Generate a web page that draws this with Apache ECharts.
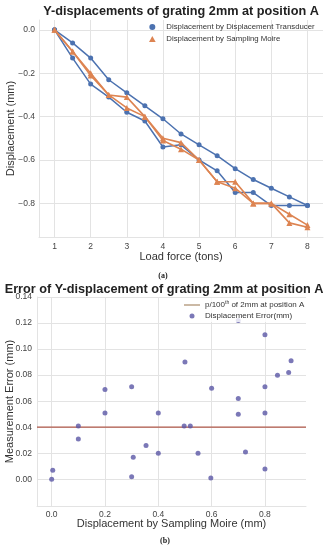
<!DOCTYPE html>
<html>
<head>
<meta charset="utf-8">
<script src="https://cdn.jsdelivr.net/npm/echarts@6/dist/echarts.min.js"></script>
<style>
html,body{margin:0;padding:0;background:#fff;}
#c{width:327px;height:550px;}
</style>
</head>
<body>
<div id="c"></div>
<script>
// ---- Top chart data ----
const loadForce = [1, 1.5, 2, 2.5, 3, 3.5, 4, 4.5, 5, 5.5, 6, 6.5, 7, 7.5, 8];
const transducerLoad   = [0, -0.06, -0.13, -0.23, -0.29, -0.35, -0.41, -0.48, -0.53, -0.58, -0.64, -0.69, -0.73, -0.77, -0.81];
const transducerUnload = [0, -0.13, -0.25, -0.31, -0.38, -0.42, -0.54, -0.53, -0.60, -0.65, -0.75, -0.75, -0.81, -0.81, -0.81];
const moireLoad   = [0, -0.10, -0.20, -0.30, -0.31, -0.40, -0.50, -0.52, -0.60, -0.70, -0.70, -0.80, -0.80, -0.85, -0.90];
const moireUnload = [0, -0.10, -0.21, -0.30, -0.36, -0.40, -0.51, -0.55, -0.60, -0.70, -0.73, -0.80, -0.80, -0.89, -0.91];
const topXTicks = [1, 2, 3, 4, 5, 6, 7, 8];
const topYTicks = [0.0, -0.2, -0.4, -0.6, -0.8];

// ---- Bottom chart data ----
const moireDisp = [0.0, 0.004, 0.10, 0.10, 0.20, 0.20, 0.30, 0.306, 0.30, 0.354, 0.40, 0.40, 0.497, 0.52, 0.50, 0.549, 0.597, 0.60, 0.70, 0.70, 0.70, 0.727, 0.80, 0.80, 0.80, 0.80, 0.847, 0.889, 0.898];
const dispError = [0.000, 0.007, 0.041, 0.031, 0.051, 0.069, 0.002, 0.017, 0.071, 0.026, 0.051, 0.020, 0.041, 0.041, 0.090, 0.020, 0.001, 0.070, 0.050, 0.062, 0.122, 0.021, 0.051, 0.008, 0.071, 0.111, 0.080, 0.082, 0.091];
const thresholdValue = 0.04;
const botXTicks = [0.0, 0.2, 0.4, 0.6, 0.8];
const botYTicks = [0.00, 0.02, 0.04, 0.06, 0.08, 0.10, 0.12, 0.14];
const botXRange = [-0.055, 0.954];

const pairs = (xs, ys) => xs.map((x, i) => [x, ys[i]]);

const FONT = 'Liberation Sans';
const gridColor = '#e3e3e3';
const labelColor = '#444';
const blue = '#4c72b0';
const orange = '#dd8452';
const purple = '#5a56a5';
const red = '#b0584a';

const chart = echarts.init(document.getElementById('c'), null, {renderer: 'canvas'});

function axisCommon(ticks, fmt, margin) {
  return {
    axisLine: {show: true, onZero: false, lineStyle: {color: gridColor, width: 1}},
    axisTick: {show: false, customValues: ticks},
    axisLabel: {customValues: ticks, formatter: fmt, color: labelColor, fontFamily: FONT, fontSize: 8.5, margin: margin},
    splitLine: {show: true, lineStyle: {color: gridColor, width: 1}}
  };
}

const option = {
  backgroundColor: '#fff',
  animation: false,
  textStyle: {fontFamily: FONT},
  title: [
    {text: 'Y-displacements of grating 2mm at position A', left: 176, top: 0, textAlign: 'center',
     textStyle: {fontFamily: FONT, fontWeight: 'bold', fontSize: 12.7, color: '#222'}},
    {text: 'Error of Y-displacement of grating 2mm at position A', left: 159, top: 278, textAlign: 'center',
     textStyle: {fontFamily: FONT, fontWeight: 'bold', fontSize: 12.7, color: '#222'}},
    {text: '(a)', left: 158, top: 267, textAlign: 'center',
     textStyle: {fontFamily: 'Liberation Serif', fontWeight: 'bold', fontSize: 8, color: '#222'}},
    {text: '(b)', left: 160, top: 532, textAlign: 'center',
     textStyle: {fontFamily: 'Liberation Serif', fontWeight: 'bold', fontSize: 8, color: '#222'}}
  ],
  legend: [
    {
      orient: 'vertical', left: 144, top: 18, itemGap: 4,
      itemWidth: 18, itemHeight: 6,
      textStyle: {fontFamily: FONT, fontSize: 7.8, color: '#333'},
      data: [
        {name: 'Displacement by Displacement Transducer', icon: 'circle'},
        {name: 'Displacement by Sampling Moire', icon: 'path://M5,0 L10,9 L0,9 Z'}
      ]
    },
    {
      orient: 'vertical', left: 182, top: 298, itemGap: 3,
      itemWidth: 16, itemHeight: 5,
      backgroundColor: 'rgba(255,255,255,0.8)',
      padding: [2, 4, 2, 2],
      textStyle: {fontFamily: FONT, fontSize: 8, color: '#333',
        rich: {sup: {fontSize: 5, padding: [0, 0, 5, 0], fontFamily: FONT, color: '#333'}}},
      formatter: function (name) {
        if (name === 'thr') return 'p/100{sup|th} of 2mm at position A';
        return name;
      },
      data: [
        {name: 'thr', icon: 'path://M0,0 L40,0 L40,3 L0,3 Z', itemStyle: {color: '#a88a6a'}},
        {name: 'Displacement Error(mm)', icon: 'circle'}
      ]
    }
  ],
  grid: [
    {left: 39, right: 4, top: 20, bottom: 313, containLabel: false, outerBoundsMode: 'none'},
    {left: 37, right: 21, top: 297, bottom: 44, containLabel: false, outerBoundsMode: 'none'}
  ],
  xAxis: [
    Object.assign({
      type: 'value', gridIndex: 0, min: 0.57, max: 8.43,
      name: 'Load force (tons)', nameLocation: 'middle', nameGap: 14, nameMoveOverlap: false,
      nameTextStyle: {fontFamily: FONT, fontSize: 11, color: '#333', verticalAlign: 'top'}
    }, axisCommon(topXTicks, v => String(v), 5)),
    Object.assign({
      type: 'value', gridIndex: 1, min: botXRange[0], max: botXRange[1],
      name: 'Displacement by Sampling Moire (mm)', nameLocation: 'middle', nameGap: 12, nameMoveOverlap: false,
      nameTextStyle: {fontFamily: FONT, fontSize: 11, color: '#333', verticalAlign: 'top'}
    }, axisCommon(botXTicks, v => v.toFixed(1), 4))
  ],
  yAxis: [
    Object.assign({
      type: 'value', gridIndex: 0, min: -0.955, max: 0.0455,
      name: 'Displacement (mm)', nameLocation: 'middle', nameGap: 23, nameMoveOverlap: false,
      nameTextStyle: {fontFamily: FONT, fontSize: 11, color: '#333'}
    }, axisCommon(topYTicks, v => (v < 0 ? '\u2212' + Math.abs(v).toFixed(1) : v.toFixed(1)), 4)),
    Object.assign({
      type: 'value', gridIndex: 1, min: -0.0205, max: 0.14,
      name: 'Measurement Error (mm)', nameLocation: 'middle', nameGap: 22, nameMoveOverlap: false,
      nameTextStyle: {fontFamily: FONT, fontSize: 11, color: '#333'}
    }, axisCommon(botYTicks, v => v.toFixed(2), 5))
  ],
  series: [
    {name: 'Displacement by Displacement Transducer', type: 'line', xAxisIndex: 0, yAxisIndex: 0,
     data: pairs(loadForce, transducerLoad), symbol: 'circle', symbolSize: 5,
     lineStyle: {color: blue, width: 1.5}, itemStyle: {color: blue}, z: 2},
    {name: 'Displacement by Displacement Transducer', type: 'line', xAxisIndex: 0, yAxisIndex: 0,
     data: pairs(loadForce, transducerUnload), symbol: 'circle', symbolSize: 5,
     lineStyle: {color: blue, width: 1.5}, itemStyle: {color: blue}, z: 2},
    {name: 'Displacement by Sampling Moire', type: 'line', xAxisIndex: 0, yAxisIndex: 0,
     data: pairs(loadForce, moireLoad), symbol: 'triangle', symbolSize: 6,
     lineStyle: {color: orange, width: 1.6}, itemStyle: {color: orange}, z: 3},
    {name: 'Displacement by Sampling Moire', type: 'line', xAxisIndex: 0, yAxisIndex: 0,
     data: pairs(loadForce, moireUnload), symbol: 'triangle', symbolSize: 6,
     lineStyle: {color: orange, width: 1.6}, itemStyle: {color: orange}, z: 3},
    {name: 'thr', type: 'line', xAxisIndex: 1, yAxisIndex: 1,
     data: pairs(botXRange, [thresholdValue, thresholdValue]),
     symbol: 'none', itemStyle: {color: red}, lineStyle: {color: red, width: 1.2}, z: 2},
    {name: 'Displacement Error(mm)', type: 'scatter', xAxisIndex: 1, yAxisIndex: 1,
     data: pairs(moireDisp, dispError), symbol: 'circle', symbolSize: 5,
     itemStyle: {color: purple}, z: 3}
  ]
};
chart.setOption(option);
</script>
</body>
</html>
